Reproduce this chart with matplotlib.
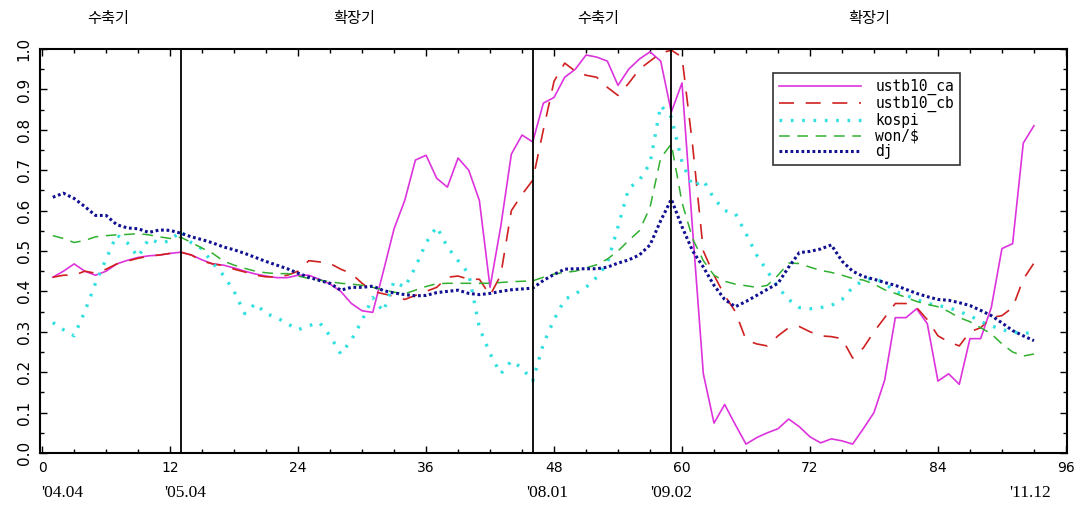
import numpy as np
import matplotlib
matplotlib.use("Agg")
import matplotlib.pyplot as plt
from matplotlib.ticker import MultipleLocator

plt.rcParams['font.family'] = ['DejaVu Sans', 'Noto Sans CJK KR']

months = np.arange(1, 94)

ustb10_ca = [0.435, 0.45, 0.468, 0.45, 0.44, 0.45, 0.468, 0.477, 0.484, 0.488,
             0.49, 0.494, 0.497, 0.49, 0.478, 0.468, 0.465, 0.458, 0.45, 0.443,
             0.438, 0.434, 0.434, 0.44, 0.44, 0.43, 0.418, 0.40, 0.37, 0.352,
             0.348, 0.45, 0.555, 0.625, 0.725, 0.737, 0.68, 0.658, 0.73, 0.70,
             0.625, 0.41, 0.56, 0.74, 0.787, 0.77, 0.866, 0.88, 0.93, 0.95,
             0.985, 0.98, 0.97, 0.91, 0.95, 0.975, 0.993, 0.97, 0.844, 0.916,
             0.55, 0.196, 0.074, 0.12, 0.07, 0.022, 0.038, 0.05, 0.06, 0.084,
             0.065, 0.04, 0.025, 0.035, 0.03, 0.022, 0.06, 0.10, 0.18, 0.335,
             0.335, 0.357, 0.32, 0.178, 0.196, 0.17, 0.283, 0.283, 0.36, 0.506,
             0.518, 0.767, 0.81]

ustb10_cb = [0.435, 0.44, 0.44, 0.45, 0.445, 0.455, 0.468, 0.475, 0.482, 0.487,
             0.49, 0.494, 0.497, 0.49, 0.475, 0.468, 0.464, 0.455, 0.448, 0.44,
             0.436, 0.436, 0.44, 0.45, 0.476, 0.473, 0.469, 0.455, 0.444, 0.42,
             0.40, 0.394, 0.388, 0.38, 0.39, 0.40, 0.41, 0.435, 0.438, 0.43,
             0.43, 0.39, 0.44, 0.60, 0.64, 0.675, 0.80, 0.92, 0.965, 0.945,
             0.935, 0.93, 0.905, 0.885, 0.915, 0.95, 0.97, 0.99, 0.997, 0.98,
             0.76, 0.50, 0.44, 0.39, 0.35, 0.28, 0.27, 0.265, 0.29, 0.31,
             0.313, 0.30, 0.29, 0.288, 0.283, 0.235, 0.26, 0.30, 0.335, 0.37,
             0.37, 0.36, 0.33, 0.29, 0.275, 0.265, 0.30, 0.31, 0.335, 0.34,
             0.36, 0.43, 0.47]

kospi = [0.323, 0.305, 0.29, 0.35, 0.42, 0.48, 0.54, 0.52, 0.485, 0.53,
         0.52, 0.525, 0.55, 0.52, 0.505, 0.47, 0.44, 0.40, 0.345, 0.37,
         0.345, 0.335, 0.32, 0.305, 0.315, 0.323, 0.29, 0.245, 0.28, 0.328,
         0.385, 0.35, 0.425, 0.41, 0.46, 0.52, 0.56, 0.51, 0.476, 0.444,
         0.31, 0.246, 0.196, 0.228, 0.21, 0.178, 0.27, 0.33, 0.38, 0.394,
         0.41, 0.435, 0.47, 0.56, 0.655, 0.675, 0.717, 0.86, 0.831, 0.72,
         0.66, 0.675, 0.63, 0.60, 0.593, 0.543, 0.49, 0.45, 0.41, 0.38,
         0.36, 0.357, 0.36, 0.365, 0.38, 0.41, 0.427, 0.434, 0.42, 0.40,
         0.39, 0.38, 0.37, 0.365, 0.36, 0.35, 0.34, 0.325, 0.315, 0.305,
         0.30, 0.295, 0.30]

won_usd = [0.538, 0.531, 0.521, 0.526, 0.535, 0.538, 0.54, 0.541, 0.543, 0.54,
           0.535, 0.531, 0.534, 0.521, 0.507, 0.494, 0.475, 0.465, 0.457, 0.45,
           0.446, 0.444, 0.444, 0.438, 0.432, 0.428, 0.424, 0.42, 0.418, 0.415,
           0.41, 0.404, 0.398, 0.394, 0.403, 0.412, 0.419, 0.42, 0.42, 0.42,
           0.42, 0.42, 0.422, 0.424, 0.425, 0.426, 0.435, 0.443, 0.447, 0.45,
           0.458, 0.466, 0.48, 0.50, 0.526, 0.55, 0.608, 0.73, 0.765, 0.62,
           0.53, 0.476, 0.44, 0.425, 0.418, 0.414, 0.41, 0.415, 0.44, 0.47,
           0.469, 0.46, 0.452, 0.447, 0.44, 0.432, 0.428, 0.418, 0.404, 0.395,
           0.385, 0.375, 0.368, 0.362, 0.35, 0.335, 0.325, 0.31, 0.295, 0.27,
           0.25, 0.24, 0.245]

dj = [0.633, 0.643, 0.63, 0.61, 0.588, 0.588, 0.565, 0.557, 0.555, 0.546,
      0.552, 0.551, 0.544, 0.535, 0.528, 0.52, 0.51, 0.503, 0.494, 0.484,
      0.474, 0.465, 0.456, 0.445, 0.435, 0.427, 0.42, 0.403, 0.41, 0.41,
      0.413, 0.402, 0.396, 0.392, 0.389, 0.39, 0.397, 0.40, 0.403, 0.395,
      0.392, 0.395, 0.40, 0.404, 0.406, 0.408, 0.427, 0.442, 0.455, 0.456,
      0.456, 0.456, 0.46, 0.47, 0.478, 0.49, 0.515, 0.575, 0.628, 0.56,
      0.50, 0.46, 0.415, 0.38, 0.362, 0.375, 0.39, 0.405, 0.42, 0.46,
      0.496, 0.499, 0.505, 0.515, 0.475, 0.45, 0.437, 0.43, 0.422, 0.415,
      0.405, 0.395, 0.387, 0.38, 0.378, 0.372, 0.365, 0.353, 0.34, 0.322,
      0.303, 0.29, 0.278]

# turning points and cycle phases
turning_points = [13, 46, 59]
phase_names = ['수축기', '확장기', '수축기', '확장기']
phase_x = [6.2, 29.3, 52.1, 77.6]
date_labels = ["'04.04", "'05.04", "'08.01", "'09.02", "'11.12"]
date_x = [1.9, 13.4, 47.4, 59.0, 92.6]

fig = plt.figure(figsize=(10.87, 5.05), dpi=100)
ax = fig.add_axes([0.0368, 0.103, 0.9448, 0.8])

ax.plot(months, ustb10_ca, color='#dd33dd', lw=1.2, label='ustb10_ca')
ax.plot(months, ustb10_cb, color='#d02020', lw=1.2, dashes=(9, 7), label='ustb10_cb')
ax.plot(months, kospi, color='#33e0e0', lw=2.4, dashes=(0.8, 2.6), label='kospi')
ax.plot(months, won_usd, color='#30b030', lw=1.1, dashes=(7, 5), label=r'won/\$')
ax.plot(months, dj, color='#101090', lw=2.2, dashes=(0.9, 0.9), label='dj')

for tp in turning_points:
    ax.axvline(tp, color='black', lw=1.3)

ax.set_xlim(-0.2, 96.1)
ax.set_ylim(0, 1.0)
ax.xaxis.set_major_locator(MultipleLocator(12))
ax.xaxis.set_minor_locator(MultipleLocator(3))
ax.yaxis.set_minor_locator(MultipleLocator(0.05))
ax.tick_params(which='both', direction='in', top=True, right=True)
ax.tick_params(which='major', length=5, width=1)
ax.tick_params(which='minor', length=3, width=1)
ax.tick_params(axis='x', labelsize=10, pad=6)
ax.tick_params(axis='y', labelsize=11, pad=6)
yt = np.arange(0, 1.01, 0.1)
ax.set_yticks(yt)
ax.set_yticklabels(['%.1f' % v for v in yt], rotation=90, va='center')
for s in ax.spines.values():
    s.set_linewidth(1.5)

leg = ax.legend(loc='upper left', bbox_to_anchor=(0.707, 0.958),
                prop={'family': 'DejaVu Sans Mono', 'size': 10.5},
                handlelength=5.6, frameon=True, fancybox=False, edgecolor='black',
                borderpad=0.4, labelspacing=0.05, handletextpad=1.0)
leg.get_frame().set_linewidth(1.2)

for name, px in zip(phase_names, phase_x):
    ax.text(px, 1.055, name, transform=ax.get_xaxis_transform(), ha='center', va='bottom',
            fontsize=11, family=['Noto Sans CJK KR', 'DejaVu Sans'])

for lab, px in zip(date_labels, date_x):
    ax.text(px, -0.10, lab, transform=ax.get_xaxis_transform(), ha='center', va='center',
            fontsize=12.5, family='Liberation Serif')

fig.savefig('out.png', dpi=100)
